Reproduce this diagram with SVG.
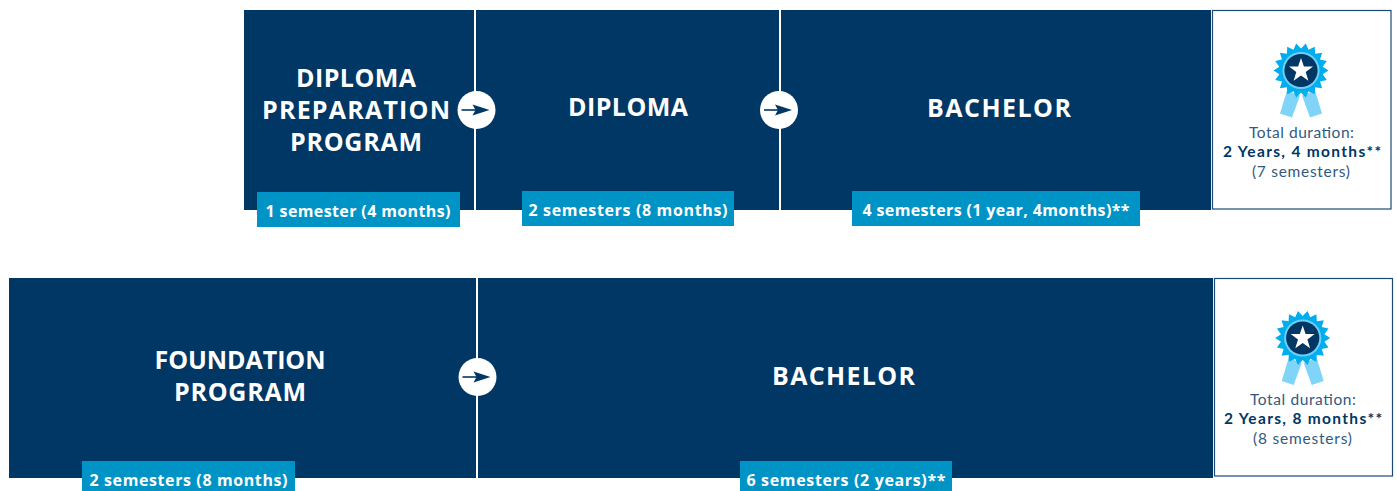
<svg xmlns="http://www.w3.org/2000/svg" xmlns:xlink="http://www.w3.org/1999/xlink" width="1397" height="491" viewBox="0 0 1397 491">
<style>
text{font-family:"Open Sans","Noto Sans","Liberation Sans",sans-serif;text-anchor:middle}
.bg{fill:#fff}
.block{fill:#003764}
.badge{fill:#0093c6}
.title{font-size:25px;font-weight:700;fill:#fff}
.btext{font-size:16px;font-weight:700;fill:#fff}
.box{fill:#fff;stroke:#1d4a75;stroke-width:1.2}
.t{font-family:Lato,"Open Sans",sans-serif;font-size:15.5px;fill:#2f5a82}
.tb{font-family:Lato,"Open Sans",sans-serif;font-size:15.5px;font-weight:700;fill:#003764}
.disc{fill:#fff}
.shaft{stroke:#003764;stroke-width:1.6;fill:none}
.head{fill:#003764}
</style>
<defs>
<g id="arrow">
<circle class="disc" r="19"/>
<path class="shaft" d="M-15 0H0"/>
<path class="head" d="M-4-5.5L13 0-4 5.5-1 0Z"/>
</g>
<g id="medal">
<path fill="#7fd4f8" d="M-14 20L-21 43-9 47-1 25Z"/>
<path fill="#7fd4f8" d="M14 20L21 43 9 47 1 25Z"/>
<polygon fill="#00aeef" points="27.5,0 21.7,3.8 25.8,9.4 19.05,11 21.1,17.7 14.1,16.85 13.75,23.8 7.5,20.7 4.8,27.1 0,22 -4.8,27.1 -7.5,20.7 -13.75,23.8 -14.1,16.85 -21.1,17.7 -19.05,11 -25.8,9.4 -21.7,3.8 -27.5,0 -21.7,-3.8 -25.8,-9.4 -19.05,-11 -21.1,-17.7 -14.1,-16.85 -13.75,-23.8 -7.5,-20.7 -4.8,-27.1 0,-22 4.8,-27.1 7.5,-20.7 13.75,-23.8 14.1,-16.85 21.1,-17.7 19.05,-11 25.8,-9.4 21.7,-3.8"/>
<circle r="18.6" fill="#6dcff6"/>
<circle r="16.6" fill="#003764"/>
<polygon fill="#fff" points="0,-12.6 2.9,-4 12,-3.9 4.7,1.5 7.4,10.2 0,5 -7.4,10.2 -4.7,1.5 -12,-3.9 -2.9,-4"/>
</g>
</defs>
<rect class="bg" width="1397" height="491"/>
<g id="node-diploma-prep">
<rect class="block" x="244" y="10" width="230" height="200"/>
<text class="title" x="356" y="87" textLength="120">DIPLOMA</text>
<text class="title" x="356" y="119" textLength="188">PREPARATION</text>
<text class="title" x="356" y="151" textLength="132">PROGRAM</text>
<rect class="badge" x="257" y="192" width="203" height="35"/>
<text class="btext" x="358" y="217" textLength="185">1 semester (4 months)</text>
</g>
<g id="node-diploma">
<rect class="block" x="476" y="10" width="303" height="200"/>
<text class="title" x="628" y="116" textLength="120">DIPLOMA</text>
<rect class="badge" x="522" y="191" width="212" height="35"/>
<text class="btext" x="628" y="216" textLength="199">2 semesters (8 months)</text>
</g>
<g id="node-bachelor-1">
<rect class="block" x="781" y="10" width="430" height="200"/>
<text class="title" x="999" y="117" textLength="144">BACHELOR</text>
<rect class="badge" x="852" y="191" width="288" height="35"/>
<text class="btext" x="996" y="216" textLength="267">4 semesters (1 year, 4months)**</text>
</g>
<g id="node-total-1">
<rect class="box" x="1212.5" y="10.5" width="178.5" height="198.5"/>
<use xlink:href="#medal" href="#medal" x="1301" y="70.5"/>
<text class="t" x="1301.5" y="138" textLength="105">Total duration:</text>
<text class="tb" x="1302" y="157" textLength="158">2 Years, 4 months**</text>
<text class="t" x="1301" y="177" textLength="98">(7 semesters)</text>
</g>
<g id="node-foundation">
<rect class="block" x="9" y="278" width="467" height="200"/>
<text class="title" x="240" y="369" textLength="171">FOUNDATION</text>
<text class="title" x="240" y="401" textLength="132">PROGRAM</text>
<rect class="badge" x="82" y="461" width="213" height="30"/>
<text class="btext" x="188.5" y="486" textLength="198">2 semesters (8 months)</text>
</g>
<g id="node-bachelor-2">
<rect class="block" x="478" y="278" width="735" height="200"/>
<text class="title" x="843.5" y="385" textLength="143">BACHELOR</text>
<rect class="badge" x="740" y="461" width="212" height="30"/>
<text class="btext" x="846" y="486" textLength="199">6 semesters (2 years)**</text>
</g>
<g id="node-total-2">
<rect class="box" x="1214.5" y="278.5" width="178" height="197.5"/>
<use xlink:href="#medal" href="#medal" x="1302.7" y="338"/>
<text class="t" x="1303" y="405" textLength="106">Total duration:</text>
<text class="tb" x="1303" y="424" textLength="158">2 Years, 8 months**</text>
<text class="t" x="1302.5" y="444" textLength="99">(8 semesters)</text>
</g>
<g id="connectors">
<use xlink:href="#arrow" href="#arrow" x="476.5" y="110"/>
<use xlink:href="#arrow" href="#arrow" x="779" y="110"/>
<use xlink:href="#arrow" href="#arrow" x="477.5" y="377"/>
</g>
</svg>
